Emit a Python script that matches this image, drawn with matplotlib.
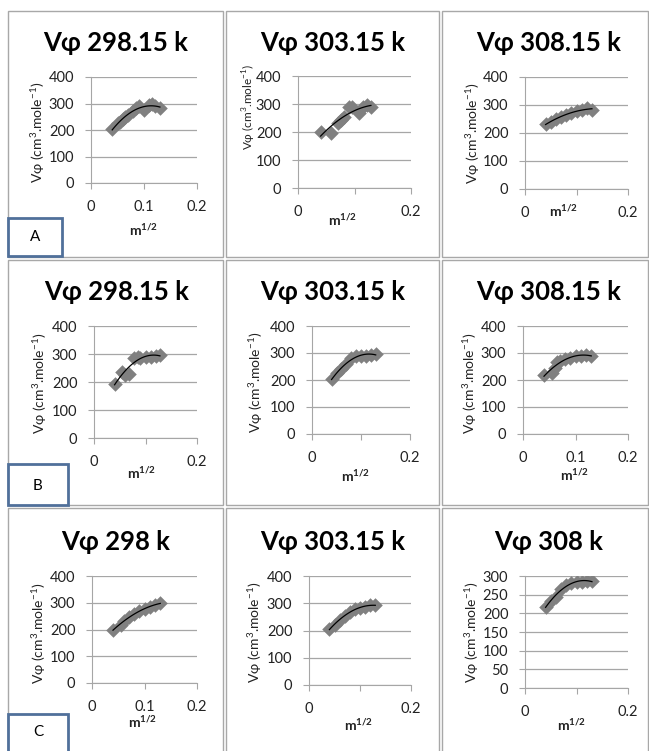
import matplotlib.pyplot as plt
import numpy as np
from matplotlib.patches import Rectangle

plt.rcParams['font.family'] = ['Lato', 'DejaVu Sans']
plt.rcParams['mathtext.fontset'] = 'custom'
plt.rcParams['mathtext.rm'] = 'Lato'
plt.rcParams['mathtext.bf'] = 'Lato:bold'

# Data (m^1/2 vs Vphi)
m_a1 = [0.04, 0.05, 0.055, 0.06, 0.065, 0.07, 0.08, 0.085, 0.09, 0.10, 0.11, 0.115, 0.12, 0.13]
v_a1 = [203, 225, 232, 240, 250, 258, 270, 282, 290, 275, 295, 300, 290, 282]
m_a2 = [0.04, 0.058, 0.07, 0.076, 0.082, 0.09, 0.096, 0.108, 0.115, 0.123, 0.129]
v_a2 = [200, 197, 232, 242, 255, 290, 288, 268, 288, 298, 288]
m_a3 = [0.04, 0.05, 0.06, 0.07, 0.08, 0.09, 0.10, 0.11, 0.12, 0.13]
v_a3 = [232, 240, 250, 258, 265, 272, 278, 283, 290, 282]

m_b1 = [0.04, 0.054, 0.06, 0.067, 0.077, 0.085, 0.09, 0.10, 0.11, 0.12, 0.128]
v_b1 = [194, 234, 226, 230, 285, 290, 287, 288, 290, 292, 297]
m_b2 = [0.04, 0.05, 0.06, 0.07, 0.08, 0.09, 0.10, 0.11, 0.12, 0.13]
v_b2 = [202, 225, 242, 260, 282, 288, 290, 290, 292, 298]
m_b3 = [0.04, 0.055, 0.06, 0.065, 0.07, 0.08, 0.09, 0.10, 0.11, 0.12, 0.13]
v_b3 = [220, 226, 245, 268, 270, 278, 282, 288, 290, 292, 290]

m_c1 = [0.04, 0.055, 0.06, 0.07, 0.08, 0.09, 0.10, 0.11, 0.12, 0.13]
v_c1 = [200, 215, 232, 248, 258, 268, 278, 285, 292, 298]
m_c2 = [0.04, 0.05, 0.06, 0.07, 0.08, 0.09, 0.10, 0.11, 0.12, 0.13]
v_c2 = [205, 220, 240, 255, 268, 278, 284, 288, 292, 293]
m_c3 = [0.04, 0.05, 0.06, 0.07, 0.08, 0.09, 0.10, 0.11, 0.12, 0.13]
v_c3 = [218, 232, 245, 265, 275, 280, 285, 285, 287, 286]

titles = ['Vφ 298.15 k', 'Vφ 303.15 k', 'Vφ 308.15 k',
          'Vφ 298.15 k', 'Vφ 303.15 k', 'Vφ 308.15 k',
          'Vφ 298 k', 'Vφ 303.15 k', 'Vφ 308 k']
xs = [m_a1, m_a2, m_a3, m_b1, m_b2, m_b3, m_c1, m_c2, m_c3]
ys = [v_a1, v_a2, v_a3, v_b1, v_b2, v_b3, v_c1, v_c2, v_c3]
ymax = [400, 400, 400, 400, 400, 400, 400, 400, 300]
ystep = [100, 100, 100, 100, 100, 100, 100, 100, 50]
show_mid = [True, False, False, False, False, True, True, False, False]
xtick_labels = ['0', '0.1', '0.2']
ylab = r'Vφ (cm$^{3}$.mole$^{-1}$)'
row_labels = ['A', 'B', 'C']

# layout in pixels: axes left, right, top, bottom; title x,y; ylabel x,y; xlabel x,y
W, H = 649, 751
layout = [
    (91, 197, 77, 183, 116, 43, 38, 132, 144, 230),
    (298, 411, 76, 188, 333, 43, 249, 107, 343, 220),
    (525, 628, 77, 189, 549, 43, 473, 133, 564, 211),
    (94, 197, 326, 438, 117, 292, 40, 383, 142, 473),
    (312, 410, 326, 434, 333, 292, 256, 382, 356, 476),
    (523, 628, 326, 434, 549, 292, 470, 383, 575, 475),
    (92, 197, 576, 683, 116, 542, 39, 633, 143, 722),
    (309, 411, 576, 685, 333, 542, 255, 632, 359, 725),
    (525, 628, 576, 688, 549, 542, 472, 632, 572, 725),
]

fig = plt.figure(figsize=(W / 100, H / 100), dpi=100)

def fx(x):
    return x / W

def fy(y):
    return 1 - y / H

# table cell borders
cols = [(8, 223), (226, 439), (442, 648)]
rows = [(11, 257), (260, 505), (508, 760)]
for (r0, r1) in rows:
    for (c0, c1) in cols:
        fig.patches.append(Rectangle((fx(c0), fy(r1)), (c1 - c0) / W, (r1 - r0) / H,
                                     transform=fig.transFigure, fill=False,
                                     edgecolor='#a8a8a8', lw=1.0))

grey = '#a6a6a6'
for i in range(9):
    x0, x1, yt, yb, tx, ty, lx, ly, mx, my = layout[i]
    ax = fig.add_axes([fx(x0), fy(yb), (x1 - x0) / W, (yb - yt) / H])
    ax.set_xlim(0, 0.2)
    ax.set_ylim(0, ymax[i])
    ax.set_yticks(np.arange(0, ymax[i] + 1, ystep[i]))
    ax.set_xticks([0, 0.1, 0.2])
    labs = list(xtick_labels)
    if not show_mid[i]:
        labs[1] = ''
    ax.set_xticklabels(labs)
    ax.yaxis.grid(True, color=grey, lw=0.9)
    ax.set_axisbelow(True)
    for s in ['top', 'right']:
        ax.spines[s].set_visible(False)
    for s in ['left', 'bottom']:
        ax.spines[s].set_color(grey)
    ax.tick_params(direction='out', length=4, color=grey, labelsize=10.5,
                   labelcolor='#222222', pad=8)
    ax.scatter(xs[i], ys[i], marker='D', s=55, color='#808080', zorder=3,
               linewidths=0)
    # 2nd order polynomial trend line
    c = np.polyfit(xs[i], ys[i], 2)
    xf = np.linspace(min(xs[i]), max(xs[i]), 100)
    ax.plot(xf, np.polyval(c, xf), color='black', lw=0.9, zorder=4)

    fig.text(fx(tx), fy(ty), titles[i], ha='center', va='center',
             fontsize=18.5, fontweight='bold')
    fig.text(fx(lx), fy(ly), ylab, rotation=90, ha='center', va='center',
             fontsize=8.5 if i == 1 else 10, color='#222222')
    fig.text(fx(mx), fy(my), r'$\mathbf{m^{1/2}}$', ha='center', va='center',
             fontsize=10, color='#222222')

# row label boxes
boxes = [(8, 62, 218, 256), (8, 68, 464, 505), (8, 68, 714, 760)]
for lab, (b0, b1, bt, bb) in zip(row_labels, boxes):
    fig.patches.append(Rectangle((fx(b0), fy(bb)), (b1 - b0) / W, (bb - bt) / H,
                                 transform=fig.transFigure, facecolor='white',
                                 edgecolor='#50709a', lw=2.0, zorder=5))
    fig.text(fx((b0 + b1) / 2), fy(min(bb, 751) - 19), lab, ha='center', va='center',
             fontsize=11, zorder=6)

fig.savefig('out.png', dpi=100)
